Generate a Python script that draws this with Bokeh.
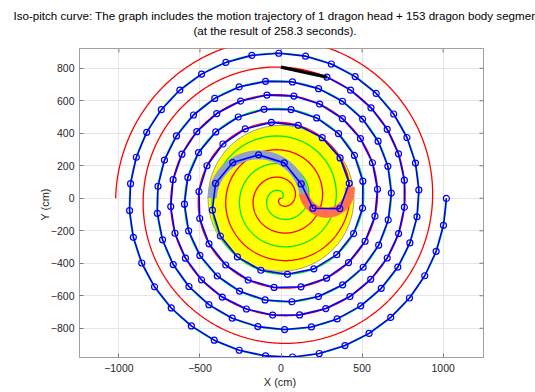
import numpy as np
from bokeh.plotting import figure
from bokeh.models import Range1d, FixedTicker, Title
from bokeh.layouts import column
from bokeh.embed import file_html
from bokeh.resources import INLINE

# ---------------- texts / axes ----------------
title_line1 = "Iso-pitch curve: The graph includes the motion trajectory of 1 dragon head + 153 dragon body segments"
title_line2 = "(at the result of 258.3 seconds)."
title_left_px = [13, 193]
x_label = "X  (cm)"
y_label = "Y  (cm)"
x_ticks = [-1000, -500, 0, 500, 1000]
y_ticks = [-800, -600, -400, -200, 0, 200, 400, 600, 800]
x_limits = [-1243, 1249]
y_limits = [-980, 922]

# ---------------- geometry values ----------------
pitch_cm = 170.0                 # distance between neighbouring coils
turn_circle_radius_cm = 450.0    # yellow turning region
spiral_end_theta = 12 * np.pi    # both spirals drawn from centre to r = 1020 cm
entry_theta = 5 * np.pi          # coil-in spiral parameter where the big arc starts (left)
exit_theta = 5 * np.pi + np.radians(9)   # coil-out spiral parameter where the small arc ends (right)
head_theta = 9.5 * np.pi         # dragon head front handle (top, r = 807.5 cm)
head_length_cm = 290.0
body_length_cm = 166.2
n_body = 153

# colours
red_col = "#ff0000"
green_col = "#00ea00"
chain_col = "#0000ff"
circle_fill = "#ffff00"
big_arc_col = "#8fa3c8"
small_arc_col = "#ff6f50"
axis_col = "#a0a0a0"
tick_col = "#7a7a7a"

# ---------------- curves ----------------
b = pitch_cm / (2 * np.pi)


def coil_in(t):
    return np.array([b * t * np.cos(t), b * t * np.sin(t)])


def coil_in_d(t):
    return np.array([np.cos(t) - t * np.sin(t), np.sin(t) + t * np.cos(t)])


def coil_out(t):
    return -coil_in(t)


th = np.linspace(0, spiral_end_theta, 5000)
gx, gy = coil_in(th)
rx, ry = coil_out(th)

# S-shaped turn: two tangent arcs, radius ratio 2:1
A = coil_in(entry_theta)
hA = -coil_in_d(entry_theta)
hA = hA / np.linalg.norm(hA)
nA = np.array([hA[1], -hA[0]])           # right-hand normal (clockwise arc)
B = coil_out(exit_theta)
hB = -coil_in_d(exit_theta)
hB = hB / np.linalg.norm(hB)
mB = np.array([-hB[1], hB[0]])           # left-hand normal (anticlockwise arc)
D = A - B
v = 2 * nA - mB
qa, qb, qc = v.dot(v) - 9.0, 2 * D.dot(v), D.dot(D)
if abs(qa) < 1e-9:
    R2 = -qc / qb
else:
    roots = np.roots([qa, qb, qc])
    roots = roots[np.isreal(roots)].real
    R2 = float(min(r for r in roots if r > 0))
R1 = 2 * R2
C1 = A + R1 * nA
C2 = B + R2 * mB
T = C1 + (C2 - C1) * R1 / (R1 + R2)

a0 = np.arctan2(A[1] - C1[1], A[0] - C1[0])
a1 = np.arctan2(T[1] - C1[1], T[0] - C1[0])
while a1 > a0:
    a1 -= 2 * np.pi
c0 = np.arctan2(T[1] - C2[1], T[0] - C2[0])
c1 = np.arctan2(B[1] - C2[1], B[0] - C2[0])
while c1 < c0:
    c1 += 2 * np.pi
aa = np.linspace(a0, a1, 1000)
big_x, big_y = C1[0] + R1 * np.cos(aa), C1[1] + R1 * np.sin(aa)
cc = np.linspace(c0, c1, 1000)
small_x, small_y = C2[0] + R2 * np.cos(cc), C2[1] + R2 * np.sin(cc)

# path followed by the dragon, from the head backwards
t_out = np.linspace(head_theta, exit_theta, 30000)
ox, oy = coil_out(t_out)
t_in = np.linspace(entry_theta, 14 * np.pi, 60000)
ix, iy = coil_in(t_in)
PX = np.concatenate([ox, small_x[::-1], big_x[::-1], ix])
PY = np.concatenate([oy, small_y[::-1], big_y[::-1], iy])

hx = [PX[0]]
hy = [PY[0]]
idx = 1
cur = np.array([PX[0], PY[0]])
for k in range(n_body + 1):
    d = head_length_cm if k == 0 else body_length_cm
    dist = np.hypot(PX[idx:] - cur[0], PY[idx:] - cur[1])
    j = int(np.argmax(dist >= d)) + idx
    p0 = np.array([PX[j - 1], PY[j - 1]])
    p1 = np.array([PX[j], PY[j]])
    u = p1 - p0
    w = p0 - cur
    ua, ub, uc = u.dot(u), u.dot(w), w.dot(w) - d * d
    s = (-ub + np.sqrt(max(ub * ub - ua * uc, 0))) / ua
    cur = p0 + s * u
    hx.append(cur[0])
    hy.append(cur[1])
    idx = j

# ---------------- layout ----------------
FONT = "Liberation Sans"
W, H = 535, 392
BL, BR, BT, BB = 79, 52, 48, 35
HEAD_H = BT - 1          # title strip above the plot

# title strip: two stacked titles, the lower one sitting just above its (empty) frame
head = figure(width=W, height=HEAD_H, x_range=Range1d(0, 1), y_range=Range1d(0, 1),
              output_backend="svg", toolbar_location=None, title=None,
              x_axis_type=None, y_axis_type=None, min_border=0, min_border_top=36)
head.grid.visible = False
head.outline_line_color = None
head.background_fill_color = "white"
head.border_fill_color = "white"
head.add_layout(Title(text=title_line2, align="left", offset=title_left_px[1] - BL, text_font=FONT,
                      text_font_size="11.6px", text_font_style="normal", text_color="black",
                      standoff=0), "above")
head.add_layout(Title(text=title_line1, align="left", offset=title_left_px[0] - BL, text_font=FONT,
                      text_font_size="11.6px", text_font_style="normal", text_color="black",
                      standoff=0), "above")

# main plot
p = figure(width=W, height=H - HEAD_H, x_range=Range1d(*x_limits), y_range=Range1d(*y_limits),
           output_backend="svg", toolbar_location=None, title=None,
           min_border_left=BL, min_border_right=BR, min_border_top=1, min_border_bottom=BB)
p.background_fill_color = "white"
p.border_fill_color = "white"
p.outline_line_color = axis_col
p.outline_line_width = 1

p.xaxis.ticker = FixedTicker(ticks=x_ticks)
p.yaxis.ticker = FixedTicker(ticks=y_ticks)
p.xgrid.ticker = FixedTicker(ticks=x_ticks)
p.ygrid.ticker = FixedTicker(ticks=y_ticks)
for g in (p.xgrid, p.ygrid):
    g.grid_line_color = "#e6e6e6"
    g.grid_line_width = 1

p.xaxis.axis_label = x_label
p.yaxis.axis_label = y_label
for ax in (p.xaxis, p.yaxis):
    ax.axis_line_color = axis_col
    ax.major_tick_in = 4
    ax.major_tick_out = 0
    ax.minor_tick_in = 0
    ax.minor_tick_out = 0
    ax.major_tick_line_color = tick_col
    ax.minor_tick_line_color = None
    ax.major_label_text_font = FONT
    ax.major_label_text_font_size = "10.5px"
    ax.major_label_text_color = "#262626"
    ax.axis_label_text_font = FONT
    ax.axis_label_text_font_size = "11px"
    ax.axis_label_text_font_style = "normal"
    ax.axis_label_text_color = "#262626"
p.xaxis.major_label_standoff = 6
p.xaxis.axis_label_standoff = 1
p.yaxis.major_label_standoff = 5
p.yaxis.axis_label_standoff = -3

# inner tick marks on the top and right edges of the box
x_per_px = (x_limits[1] - x_limits[0]) / (W - BL - BR)
y_per_px = (y_limits[1] - y_limits[0]) / (H - BT - BB)
tick_dx = 4 * x_per_px
tick_dy = 4 * y_per_px
p.segment(x0=[x_limits[1] - tick_dx] * len(y_ticks), y0=y_ticks,
          x1=[x_limits[1]] * len(y_ticks), y1=y_ticks, line_color=tick_col, line_width=1)
p.segment(x0=x_ticks, y0=[y_limits[1] - tick_dy] * len(x_ticks),
          x1=x_ticks, y1=[y_limits[1]] * len(x_ticks), line_color=tick_col, line_width=1)

# ---------------- glyphs ----------------
p.circle(x=[0], y=[0], radius=turn_circle_radius_cm, fill_color=circle_fill,
         line_color="#a0a070", line_width=1)
p.line(gx, gy, line_color=green_col, line_width=1.3)
p.line(rx, ry, line_color=red_col, line_width=1.3)
p.line(big_x, big_y, line_color=big_arc_col, line_width=9)
p.line(small_x, small_y, line_color=small_arc_col, line_width=10)
p.line(hx, hy, line_color=chain_col, line_width=1.6)
p.scatter(hx[1:], hy[1:], marker="circle", size=6, fill_color=None,
          line_color=chain_col, line_width=1.2)
p.line(hx[:2], hy[:2], line_color="black", line_width=3.5)

page = column(head, p, spacing=0)
open("out.html", "w").write(file_html(page, INLINE))
